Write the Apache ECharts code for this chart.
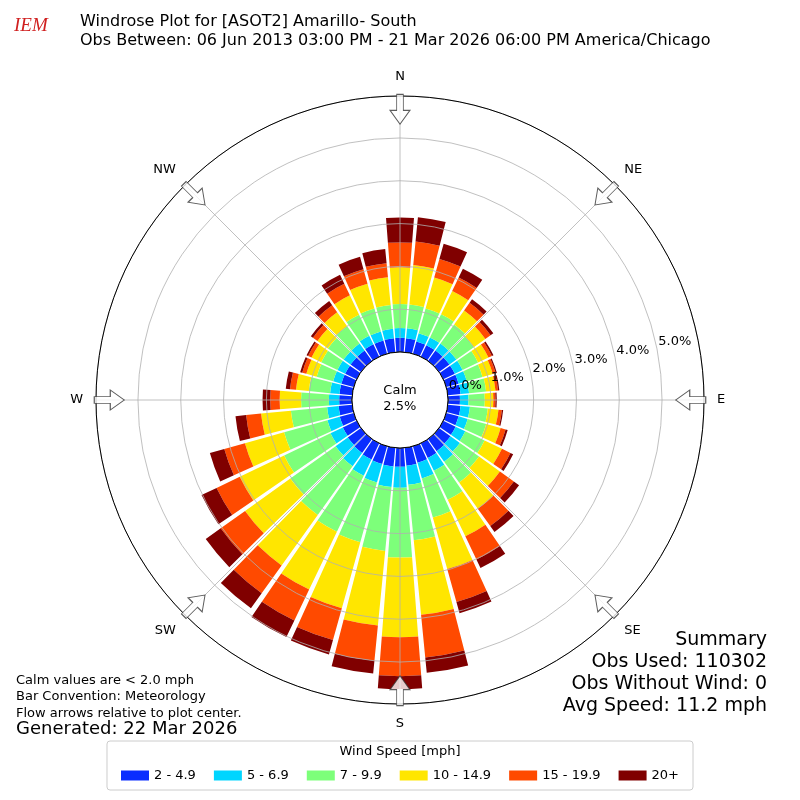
<!DOCTYPE html>
<html><head><meta charset="utf-8">
<script src="https://cdn.jsdelivr.net/npm/echarts@6/dist/echarts.min.js"></script>
<style>html,body{margin:0;padding:0;background:#fff}#c{width:800px;height:800px}</style>
</head><body><div id="c"></div>
<script>
const directions = [0,10,20,30,40,50,60,70,80,90,100,110,120,130,140,150,160,170,180,190,200,210,220,230,240,250,260,270,280,290,300,310,320,330,340,350];
const binNames = ['2 - 4.9','5 - 6.9','7 - 9.9','10 - 14.9','15 - 19.9','20+'];
const binColors = ['#0a2dff','#00d5ff','#7dff7a','#ffe600','#ff4a00','#800000'];
const s1 = [.33,.33,.30,.30,.30,.30,.30,.30,.30,.28,.30,.30,.32,.33,.35,.38,.40,.42,.44,.44,.43,.42,.40,.38,.36,.34,.32,.30,.30,.30,.30,.30,.30,.32,.32,.33];
const s2 = [.23,.23,.20,.20,.20,.20,.20,.20,.20,.20,.22,.22,.25,.27,.30,.33,.38,.45,.49,.48,.45,.42,.38,.35,.32,.30,.27,.24,.22,.20,.20,.20,.20,.22,.22,.22];
const s3 = [.56,.56,.60,.60,.55,.50,.40,.38,.40,.38,.42,.45,.50,.55,.60,.75,.95,1.30,1.63,1.50,1.45,1.45,1.40,1.30,1.20,1.05,.85,.65,.50,.40,.42,.45,.50,.55,.56,.56];
const s4 = [.86,.93,.75,.60,.40,.33,.27,.25,.22,.20,.25,.35,.45,.60,.75,.95,1.25,1.75,1.86,1.75,1.60,1.50,1.45,1.30,1.15,.95,.70,.50,.30,.25,.25,.30,.40,.50,.60,.65];
const s5 = [.58,.55,.45,.35,.22,.15,.09,.07,.06,.05,.08,.12,.22,.40,.50,.60,.80,1.00,.91,.83,.77,.80,.80,.70,.60,.50,.35,.22,.14,.10,.09,.13,.20,.30,.35,.33];
const s6 = [.58,.57,.37,.23,.10,.08,.04,.03,.03,.03,.03,.05,.07,.15,.17,.22,.27,.36,.30,.30,.35,.43,.43,.43,.39,.35,.25,.18,.10,.05,.04,.06,.12,.23,.30,.33];
const compassDirs = [0,45,90,135,180,225,270,315];
const compassLabels = ['N','NE','E','SE','S','SW','W','NW'];
const radiusTicks = [0,1,2,3,4,5];
const calmPct = 2.5;

const series = [s1,s2,s3,s4,s5,s6].map((d,i)=>({
  type:'bar', coordinateSystem:'polar', polarIndex:0, stack:'w', name:binNames[i],
  data:d, itemStyle:{color:binColors[i]}, barCategoryGap:'12%', z:2
}));
series.push({
  type:'scatter', coordinateSystem:'polar', polarIndex:1, silent:true,
  symbol:'path://M-3,-15 L3,-15 L3,1 L9,1 L0,15 L-9,1 L-3,1 Z',
  symbolSize:[20,30],
  data:compassDirs.map(a=>({value:[5.67,a], symbolRotate:-a})),
  itemStyle:{color:'#fff',borderColor:'#333',borderWidth:1}, z:6
});
series.push({
  type:'scatter', coordinateSystem:'polar', polarIndex:1, silent:true,
  symbol:'circle', symbolSize:2,
  itemStyle:{color:'rgba(0,0,0,0)'},
  data:radiusTicks.map(v=>[v+0.44, 78]),
  label:{show:true, position:'inside', fontSize:13, color:'#000', opacity:1, textBorderWidth:0, fontFamily:'DejaVu Sans',
    formatter:p=>(p.value[0]-0.44).toFixed(1)+'%'},
  z:9
});
const chart = echarts.init(document.getElementById('c'));
const font='DejaVu Sans';
chart.setOption({
  animation:false,
  textStyle:{fontFamily:font},
  polar:[
    {center:[400,400], radius:[48,304]},
    {center:[400,400], radius:[48,304]}
  ],
  angleAxis:[
    {polarIndex:0, type:'category', data:directions, startAngle:95, clockwise:true, boundaryGap:true,
      axisLine:{show:false}, axisTick:{show:false}, axisLabel:{show:false}, splitLine:{show:false}},
    {polarIndex:1, type:'value', min:0, max:360, interval:45, startAngle:90, clockwise:true, z:5,
      axisLine:{show:true, lineStyle:{color:'#000', width:1}}, axisTick:{show:false},
      axisLabel:{margin:13, fontSize:13, color:'#000', fontFamily:font,
        formatter:v=>{const i=compassDirs.indexOf(v); return (i>=0 && v!==360)?compassLabels[i]:'';}},
      splitLine:{show:true, lineStyle:{color:'#b0b0b0', width:0.8}}}
  ],
  radiusAxis:[
    {polarIndex:0, type:'value', min:0, max:5.98, show:false},
    {polarIndex:1, type:'value', min:0, max:5.98, interval:1, z:5,
      axisLine:{show:false}, axisTick:{show:false}, axisLabel:{show:false},
      splitLine:{show:true, lineStyle:{color:'#b0b0b0', width:0.8}}}
  ],
  legend:{
    bottom:10, left:'center', orient:'horizontal', data:binNames,
    icon:'rect', itemWidth:28, itemHeight:10, itemGap:18,
    borderColor:'#ccc', borderWidth:1, borderRadius:3, padding:[28,14,8,14],
    textStyle:{fontSize:13, color:'#000', fontFamily:font}
  },
  graphic:[
    {type:'circle', shape:{cx:400,cy:400,r:48}, style:{fill:'#fff',stroke:'#000',lineWidth:1}, z:8},
    {type:'text', left:'center', top:383, style:{text:'Calm\n'+calmPct.toFixed(1)+'%', fontSize:13, fontFamily:font, fill:'#000', align:'center', lineHeight:16}, z:9},
    {type:'text', left:'center', top:745, style:{text:'Wind Speed [mph]', fontSize:13, fontFamily:font, fill:'#000'}, z:9},
    {type:'text', left:80, top:12, style:{text:'Windrose Plot for [ASOT2] Amarillo- South\nObs Between: 06 Jun 2013 03:00 PM - 21 Mar 2026 06:00 PM America/Chicago', fontSize:16, lineHeight:19, fontFamily:font, fill:'#000'}},
    {type:'text', left:14, top:16, style:{text:'IEM', fontSize:19, fontStyle:'italic', fontFamily:'Liberation Serif', fill:'#d02020'}},
    {type:'text', left:16, top:672, style:{text:'Calm values are < 2.0 mph\nBar Convention: Meteorology\nFlow arrows relative to plot center.', fontSize:13, lineHeight:16.5, fontFamily:font, fill:'#000'}},
    {type:'text', left:16, top:720, style:{text:'Generated: 22 Mar 2026', fontSize:18, fontFamily:font, fill:'#000'}},
    {type:'text', x:767, y:629, style:{text:'Summary\nObs Used: 110302\nObs Without Wind: 0\nAvg Speed: 11.2 mph', fontSize:19, lineHeight:22, textAlign:'right', align:'right', fontFamily:font, fill:'#000'}}
  ],
  series:series
});
</script></body></html>
